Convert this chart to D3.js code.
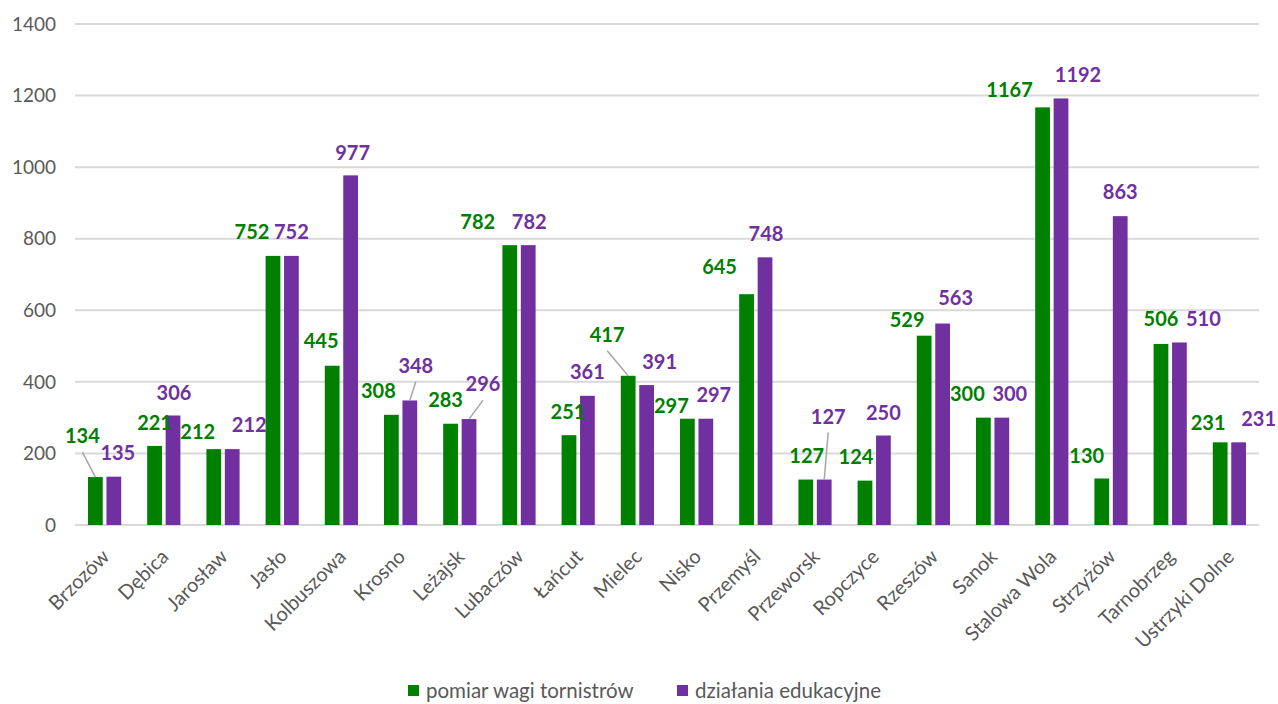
<!DOCTYPE html>
<html>
<head>
<meta charset="utf-8">
<script src="https://cdn.jsdelivr.net/npm/d3@7"></script>
<style>
  body { margin: 0; background: #fff; }
  svg { display: block; }
</style>
</head>
<body>
<svg id="chart" width="1278" height="704"></svg>
<script>
const categories = ['Brzozów', 'Dębica', 'Jarosław', 'Jasło', 'Kolbuszowa', 'Krosno', 'Leżajsk',
    'Lubaczów', 'Łańcut', 'Mielec', 'Nisko', 'Przemyśl', 'Przeworsk', 'Ropczyce', 'Rzeszów',
    'Sanok', 'Stalowa Wola', 'Strzyżów', 'Tarnobrzeg', 'Ustrzyki Dolne'];
const seriesNames = ['pomiar wagi tornistrów', 'działania edukacyjne'];
const pomiar = [134, 221, 212, 752, 445, 308, 283, 782, 251, 417, 297, 645, 127, 124, 529, 300, 1167, 130, 506, 231];
const edukacja = [135, 306, 212, 752, 977, 348, 296, 782, 361, 391, 297, 748, 127, 250, 563, 300, 1192, 863, 510, 231];
const yTicks = [0, 200, 400, 600, 800, 1000, 1200, 1400];
const colors = ['#008000', '#7030A0'];

// label nudges (px) where excel had labels dragged around, relative to a spot just above the bar
const nudgeGreen = [[-13,-29],[0,-11],[-16,-5],[-21,-12],[-11,-13],[-13,-12],[-5,-12],[-32,-11],[-1,-11],[-21,-29],
    [-16,-1],[-27,-15],[1,-12],[-9,-12],[-17,-4],[-16,-12],[-33,-6],[-15,-11],[0,-13],[-12,-8]];
const nudgePurple = [[4,-12],[1,-11],[17,-12],[0,-12],[2,-11],[6,-23],[14,-23],[1,-11],[0,-12],[13,-11],
    [8,-12],[1,-12],[4,-51],[0,-11],[13,-14],[8,-12],[17,-12],[0,-12],[24,-12],[20,-12]];
const leaders = [[0, 0], [0, 9], [1, 5], [1, 6], [1, 12]];  // [series, category]

const svg = d3.select('#chart');
const plotLeft = 75, plotRight = 1259, plotTop = 24, plotBottom = 525;

const x0 = d3.scaleBand().domain(categories).range([plotLeft, plotRight]);
const x1 = d3.scaleBand().domain([0, 1]).range([-16.6, 16.6]).paddingInner(0.2);
const y = d3.scaleLinear().domain([0, 1400]).range([plotBottom, plotTop]);

const font = 'Lato, "Open Sans", sans-serif';

// gridlines
svg.append('g')
    .selectAll('line')
    .data(yTicks)
    .join('line')
    .attr('x1', plotLeft).attr('x2', plotRight)
    .attr('y1', d => y(d)).attr('y2', d => y(d))
    .attr('stroke', '#d9d9d9')
    .attr('stroke-width', 2);

// y tick labels
svg.append('g')
    .selectAll('text')
    .data(yTicks)
    .join('text')
    .attr('x', 56)
    .attr('y', d => y(d))
    .attr('dy', '0.35em')
    .attr('text-anchor', 'end')
    .attr('fill', '#595959')
    .style('font', `19px ${font}`)
    .text(d => d);

const series = [pomiar, edukacja];
const nudges = [nudgeGreen, nudgePurple];

const rows = [];
series.forEach((vals, s) => {
    vals.forEach((v, i) => rows.push({ s, i, v, cat: categories[i] }));
});

const barCx = d => x0(d.cat) + x0.bandwidth() / 2 + x1(d.s) + x1.bandwidth() / 2;

svg.append('g')
    .selectAll('rect')
    .data(rows)
    .join('rect')
    .attr('x', d => x0(d.cat) + x0.bandwidth() / 2 + x1(d.s))
    .attr('y', d => y(d.v))
    .attr('width', x1.bandwidth())
    .attr('height', d => y(0) - y(d.v))
    .attr('fill', d => colors[d.s]);

// leader lines
svg.append('g')
    .selectAll('line')
    .data(leaders.map(([s, i]) => rows.find(r => r.s === s && r.i === i)))
    .join('line')
    .attr('x1', d => barCx(d) + nudges[d.s][d.i][0])
    .attr('y1', d => y(d.v) - 12 + nudges[d.s][d.i][1] + 16)
    .attr('x2', d => barCx(d))
    .attr('y2', d => y(d.v))
    .attr('stroke', '#a6a6a6')
    .attr('stroke-width', 1.5);

// value labels
svg.append('g')
    .selectAll('text')
    .data(rows)
    .join('text')
    .attr('x', d => barCx(d) + nudges[d.s][d.i][0])
    .attr('y', d => y(d.v) - 12 + nudges[d.s][d.i][1])
    .attr('dy', '0.36em')
    .attr('text-anchor', 'middle')
    .attr('fill', d => colors[d.s])
    .style('font', `bold 20px ${font}`)
    .text(d => d.v);

// x axis category labels
svg.append('g')
    .selectAll('text')
    .data(categories)
    .join('text')
    .attr('transform', d => `translate(${x0(d) + x0.bandwidth() / 2 + 1},${plotBottom + 28}) rotate(-45)`)
    .attr('dy', '0.35em')
    .attr('text-anchor', 'end')
    .attr('fill', '#595959')
    .style('font', `20px ${font}`)
    .text(d => d);

// legend
const legend = svg.append('g').attr('transform', 'translate(0,691)');
const legendX = [408, 677];
seriesNames.forEach((name, s) => {
    legend.append('rect')
        .attr('x', legendX[s]).attr('y', -6)
        .attr('width', 11).attr('height', 11)
        .attr('fill', colors[s]);
    legend.append('text')
        .attr('x', legendX[s] + 18).attr('y', 0)
        .attr('dy', '0.35em')
        .attr('fill', '#595959')
        .style('font', `20.5px ${font}`)
        .text(name);
});
</script>
</body>
</html>
